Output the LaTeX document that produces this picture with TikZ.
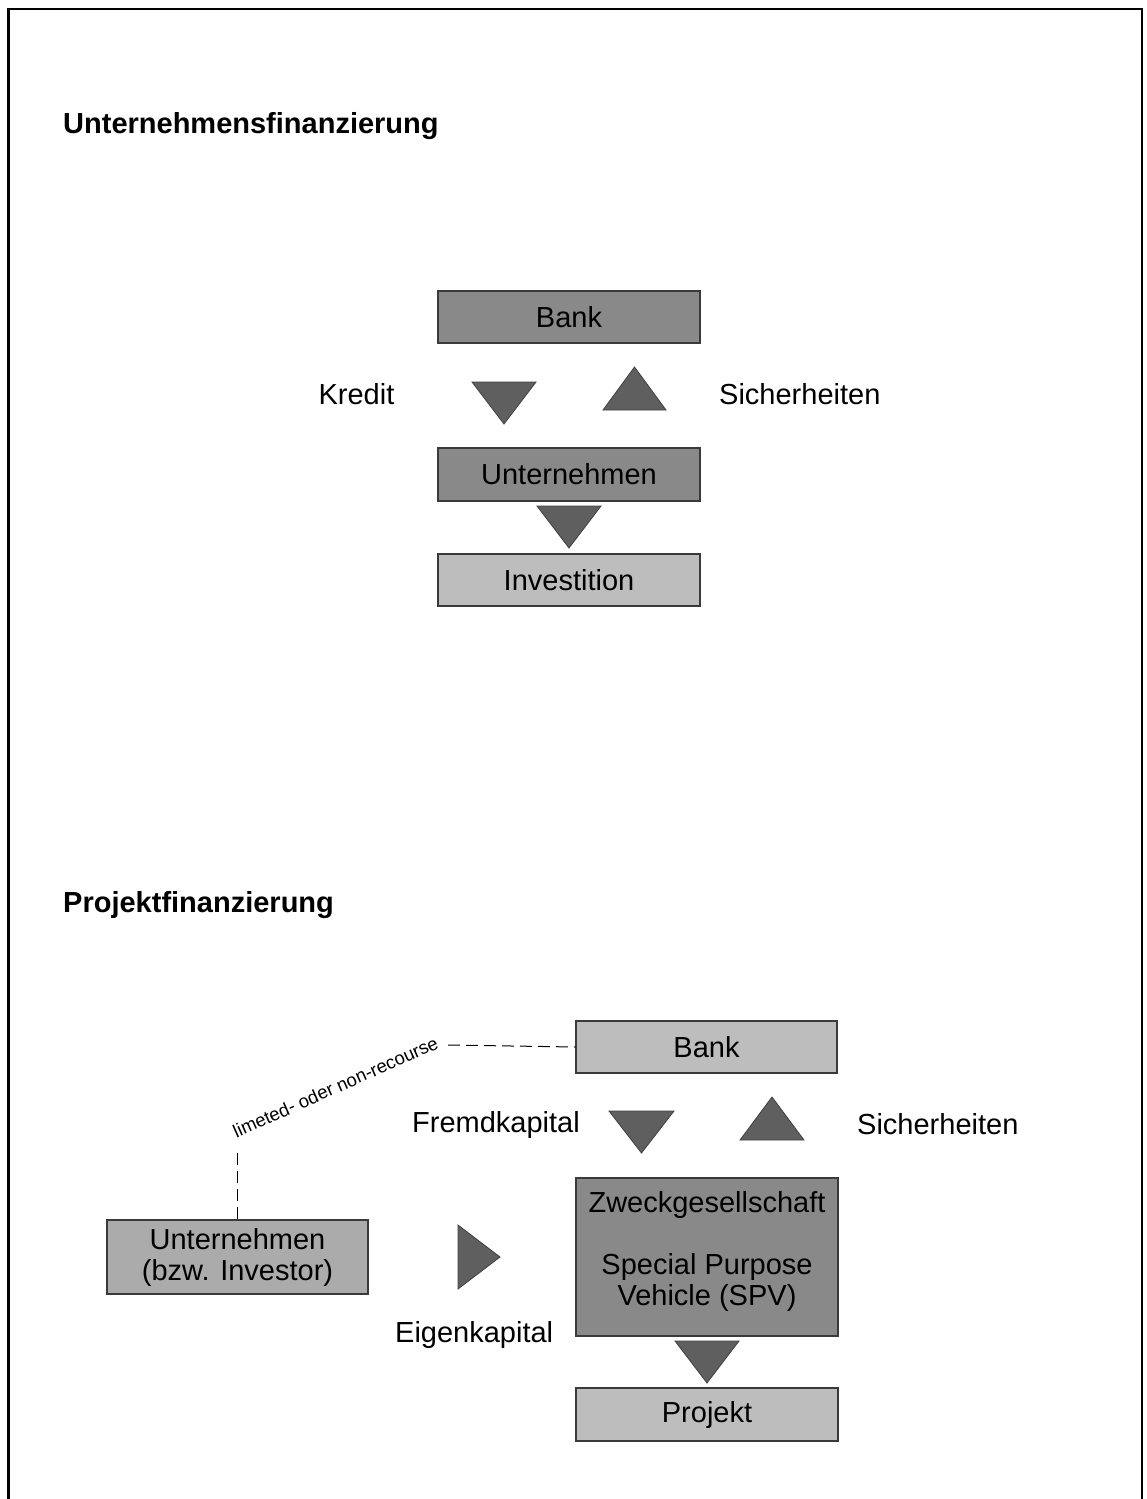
\documentclass[tikz,border=0pt]{standalone}
\usepackage{fontspec}
\setmainfont{Liberation Sans}
\definecolor{boxdark}{HTML}{898989}
\definecolor{boxlight}{HTML}{BDBDBD}
\definecolor{boxmid}{HTML}{ABABAB}
\definecolor{boxline}{HTML}{3A3A3A}
\definecolor{trifill}{HTML}{5F5F5F}
\definecolor{triline}{HTML}{404040}
\begin{document}
\begin{tikzpicture}[x=1pt,y=-1pt,
  box/.style={draw=boxline, line width=1.3pt, inner sep=0pt,
    minimum width=262pt, minimum height=53pt,
    font=\fontsize{29}{31}\selectfont},
  dark/.style={box, fill=boxdark},
  light/.style={box, fill=boxlight},
  tri/.style={fill=trifill, draw=triline, line width=0.8pt, line join=miter},
  lbl/.style={font=\fontsize{29}{31}\selectfont, inner sep=0pt},
  head/.style={font=\bfseries\fontsize{29}{31}\selectfont, inner sep=0pt, anchor=base west},
  link/.style={draw=black, line width=1pt, dash pattern=on 12pt off 6pt}]

\useasboundingbox (0,0) rectangle (1147,1499);
% frame
\draw[line width=2.5pt] (8.5,1499) -- (8.5,9) -- (1142,9) -- (1142,1499);

% ---------- corporate finance ----------
\node[head] (t1) at (63,133) {Unternehmensfinanzierung};

\node[dark, minimum height=52pt] (bank1) at (569,317) {Bank};
\node[dark] (unt1) at (569,474.5) {Unternehmen};
\node[light, minimum height=52pt] (inv1) at (569,580) {Investition};

\fill[tri] (472,382) -- (536,382) -- (504,424) -- cycle;
\fill[tri] (603,410) -- (666,410) -- (634.5,367) -- cycle;
\fill[tri] (537,506) -- (601,506) -- (569,548) -- cycle;

\node[lbl, anchor=base] (kredit) at (356.5,404) {Kredit};
\node[lbl, anchor=base west] (sich1) at (719,404) {Sicherheiten};

% ---------- project finance ----------
\node[head] (t2) at (63,912) {Projektfinanzierung};

\node[light, minimum width=261pt, minimum height=52pt] (bank2) at (706.5,1047) {Bank};
\node[dark, minimum height=158pt] (spv) at (707,1257) {};
\node[lbl, align=center] (spvtxt) at (707,1251) {Zweckgesellschaft\\[31pt]Special Purpose\\Vehicle (SPV)};
\node[light] (proj) at (707,1414.5) {Projekt};
\node[box, fill=boxmid, minimum width=261pt, minimum height=74pt, align=center] (inv2) at (237.5,1257) {Unternehmen\\(bzw. Investor)};

\fill[tri] (609,1111) -- (674,1111) -- (641.5,1153) -- cycle;
\fill[tri] (740,1140) -- (804,1140) -- (772,1097) -- cycle;
\fill[tri] (675,1341) -- (739,1341) -- (707,1383) -- cycle;
\fill[tri] (458,1225) -- (500,1257) -- (458,1289) -- cycle;

\node[lbl, anchor=base west] (fremd) at (412,1132) {Fremdkapital};
\node[lbl, anchor=base west] (sich2) at (857,1134) {Sicherheiten};
\node[lbl, anchor=base west] (eigen) at (395,1342) {Eigenkapital};

% liability link between investor and bank
\coordinate (bend1) at (237,1148);
\coordinate (bend2) at (448,1045);
\draw[link] (inv2.north -| bend1) -- (bend1);
\draw[link] (bend2) -- (bank2.west);
\node[rotate=24, anchor=base, inner sep=0pt, font=\fontsize{18.5}{20}\selectfont] (recourse) at (338,1093) {limeted- oder non-recourse};
\end{tikzpicture}
\end{document}
